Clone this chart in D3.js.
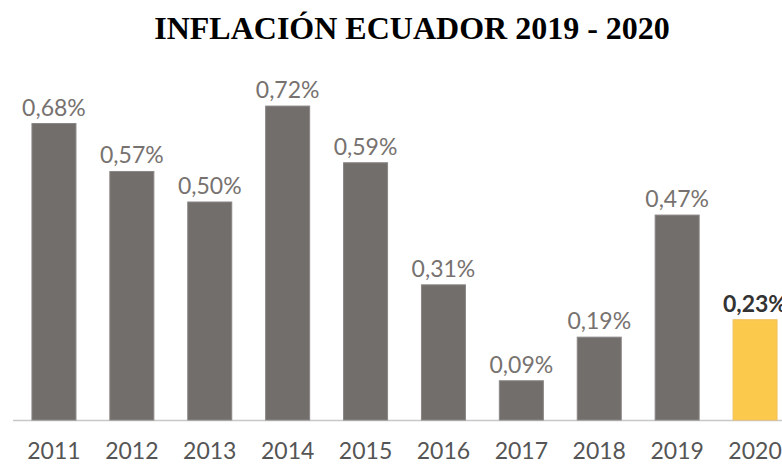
<!DOCTYPE html>
<html>
<head>
<meta charset="utf-8">
<script src="https://cdn.jsdelivr.net/npm/d3@7/dist/d3.min.js"></script>
<style>
  html, body { margin: 0; padding: 0; background: #fff; }
  svg { display: block; }
</style>
</head>
<body>
<svg id="chart" width="782" height="464"></svg>
<script>
// Inflación anual (%) por año
const years = ['2011', '2012', '2013', '2014', '2015', '2016', '2017', '2018', '2019', '2020']
const values = [0.68, 0.57, 0.50, 0.72, 0.59, 0.31, 0.09, 0.19, 0.47, 0.23]
const labels = ['0,68%', '0,57%', '0,50%', '0,72%', '0,59%', '0,31%', '0,09%', '0,19%', '0,47%', '0,23%']
const highlightYear = '2020'

const svg = d3.select('#chart')
const width = +svg.attr('width')
const baseY = 420

// Title
svg.append('text')
  .attr('x', 412)
  .attr('y', 39)
  .attr('text-anchor', 'middle')
  .attr('font-family', '"Liberation Serif", "Times New Roman", serif')
  .attr('font-weight', 'bold')
  .attr('font-size', 32)
  .attr('fill', '#000')
  .text('INFLACIÓN ECUADOR 2019 - 2020')

const x = d3.scaleBand()
  .domain(years)
  .range([15, 794])
  .paddingInner(0.435)
  .paddingOuter(0.2175)

const y = d3.scaleLinear()
  .domain([0, 0.72])
  .range([baseY, baseY - 0.72 * 436])

// Baseline
svg.append('line')
  .attr('x1', 13)
  .attr('x2', width)
  .attr('y1', baseY + 0.5)
  .attr('y2', baseY + 0.5)
  .attr('stroke', '#c8c8c8')
  .attr('stroke-width', 1.5)

// Bars
svg.append('g')
  .selectAll('rect')
  .data(years)
  .enter().append('rect')
  .attr('x', function (d) { return x(d) })
  .attr('y', function (d, i) { return y(values[i]) })
  .attr('width', x.bandwidth())
  .attr('height', function (d, i) { return y(0) - y(values[i]) })
  .attr('fill', function (d) { return d === highlightYear ? '#fbca4c' : '#726e6c' })
  .attr('stroke', function (d) { return d === highlightYear ? '#f0c060' : '#8a8685' })
  .attr('stroke-width', 1)

// Value labels
svg.append('g')
  .selectAll('text')
  .data(years)
  .enter().append('text')
  .attr('x', function (d) { return x(d) + x.bandwidth() / 2 })
  .attr('y', function (d, i) { return y(values[i]) - 8 })
  .attr('text-anchor', 'middle')
  .attr('font-family', 'Lato, sans-serif')
  .attr('font-weight', function (d) { return d === highlightYear ? 'bold' : 400 })
  .attr('font-size', 23)
  .attr('fill', function (d) { return d === highlightYear ? '#333' : '#77726f' })
  .text(function (d, i) { return labels[i] })

// Year axis labels
svg.append('g')
  .selectAll('text')
  .data(years)
  .enter().append('text')
  .attr('x', function (d) { return x(d) + x.bandwidth() / 2 })
  .attr('y', 459)
  .attr('text-anchor', 'middle')
  .attr('font-family', 'Lato, sans-serif')
  .attr('font-weight', 400)
  .attr('font-size', 23)
  .attr('fill', '#555')
  .text(function (d) { return d })
</script>
</body>
</html>
